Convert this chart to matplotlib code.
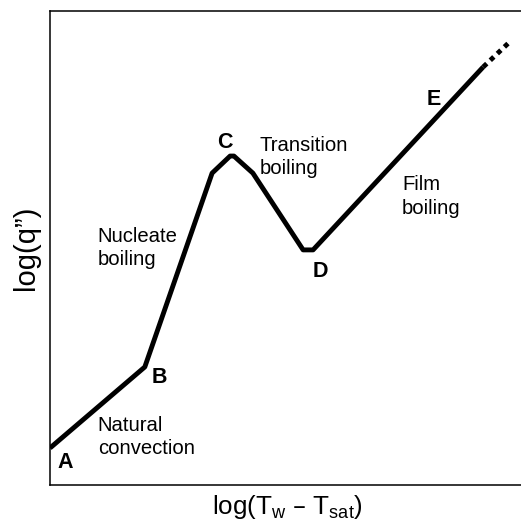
import numpy as np
import matplotlib.pyplot as plt

plt.rcParams['font.family'] = ['Liberation Sans', 'DejaVu Sans']
plt.rcParams['mathtext.default'] = 'regular'

# boiling curve (arbitrary log units, 0..100)
curve_x = [0.0, 20.0, 34.2, 38.0, 38.8, 42.8, 53.4, 55.5, 91.4]
curve_y = [7.8, 24.9, 65.8, 69.4, 69.4, 65.8, 49.6, 49.6, 88.2]
# dotted continuation beyond E
ext_x = [91.4, 97.0]
ext_y = [88.2, 93.5]

# point letters
pt_names = ['A', 'B', 'C', 'D', 'E']
pt_x = [1.5, 21.5, 35.2, 55.5, 79.5]
pt_y = [3.6, 21.5, 71.1, 43.9, 80.2]

# regime labels
reg_names = ['Natural\nconvection', 'Nucleate\nboiling', 'Transition\nboiling', 'Film\nboiling']
reg_x = [10.1, 10.1, 44.3, 74.3]
reg_y = [14.6, 54.5, 73.7, 65.3]

fig = plt.figure(figsize=(5.21, 5.25), dpi=100)
ax = fig.add_axes([50/521, 40/525, 474/521, 474/525])

ax.plot(curve_x, curve_y, color='black', lw=3.5, solid_joinstyle='round', solid_capstyle='butt')
ax.plot(ext_x, ext_y, color='black', lw=3.5, linestyle=(0, (1, 1)))

for name, x, y in zip(pt_names, pt_x, pt_y):
    ax.text(x, y, name, fontsize=15.5, fontweight='bold', ha='left', va='baseline')

for name, x, y in zip(reg_names, reg_x, reg_y):
    ax.text(x, y, name, fontsize=14.6, ha='left', va='top', linespacing=1.3)

ax.set_xlim(0, 100)
ax.set_ylim(0, 100)
ax.set_xticks([])
ax.set_yticks([])
ax.spines['right'].set_visible(False)
for s in ['left', 'top', 'bottom']:
    ax.spines[s].set_linewidth(1.1)

ax.set_xlabel(r'log(T$_{w}$ – T$_{sat}$)', fontsize=18.7, labelpad=6)
ax.set_ylabel('log(q”)', fontsize=21, labelpad=7)

fig.savefig('out.png', dpi=100)
